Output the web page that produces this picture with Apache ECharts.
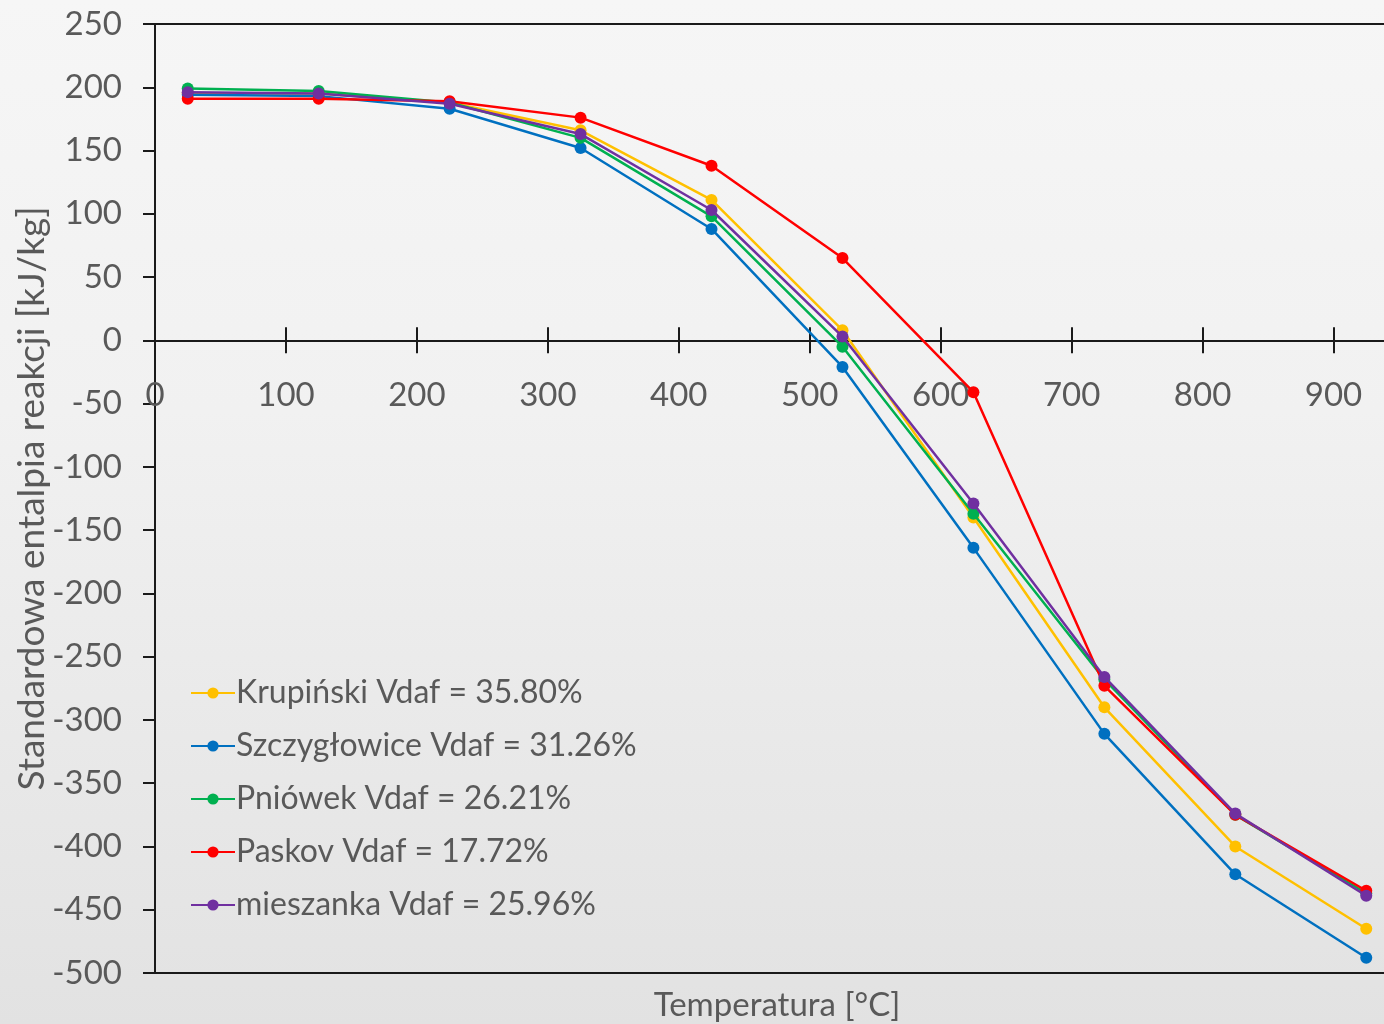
<!DOCTYPE html>
<html>
<head>
<meta charset="utf-8">
<script src="https://cdn.jsdelivr.net/npm/echarts@6/dist/echarts.min.js"></script>
<style>
  html, body { margin: 0; padding: 0; overflow: hidden; width: 1384px; height: 1024px; }
  body { background: linear-gradient(180deg, #f6f6f6 0%, #f1f1f1 40%, #e2e2e2 100%); }
  #chart { width: 1399px; height: 1024px; }
</style>
</head>
<body>
<div id="chart"></div>
<script>
// Temperatures [°C] at which the enthalpy was evaluated
const temperatures = [25, 125, 225, 325, 425, 525, 625, 725, 825, 925];

// Standard reaction enthalpy [kJ/kg] for each coal
const krupinski    = [195, 195, 188, 166, 111, 8, -140, -290, -400, -465];
const szczyglowice = [194, 193, 183, 152, 88, -21, -164, -311, -422, -488];
const pniowek      = [199, 197, 188, 160, 98, -5, -137, -268, -375, -437];
const paskov       = [191, 191, 189, 176, 138, 65, -41, -273, -375, -435];
const mieszanka    = [196, 195, 187, 163, 103, 3, -129, -266, -374, -439];

const seriesNames = [
  'Krupiński Vdaf = 35.80%',
  'Szczygłowice Vdaf = 31.26%',
  'Pniówek Vdaf = 26.21%',
  'Paskov Vdaf = 17.72%',
  'mieszanka Vdaf = 25.96%'
];
const seriesValues = [krupinski, szczyglowice, pniowek, paskov, mieszanka];
const seriesColors = ['#FFC000', '#0070C0', '#00B050', '#FF0000', '#7030A0'];

const Y_MIN = -500, Y_MAX = 250, Y_STEP = 50;
const X_MIN = 0, X_MAX = 950, X_STEP = 100;

const FONT = 'Lato, "Open Sans", sans-serif';
const TEXT = '#595959';
const AXIS = '#1a1a1a';

const chart = echarts.init(document.getElementById('chart'), null, { renderer: 'canvas' });

function buildOption(zeroOffset) {
  return {
    backgroundColor: 'transparent',
    animation: false,
    grid: {
      left: 155, right: 0, top: 24, bottom: 51,
      outerBoundsMode: 'none',
      containLabel: false,
      show: true, borderColor: AXIS, borderWidth: 2, backgroundColor: 'transparent'
    },
    legend: {
      orient: 'vertical',
      left: 185, top: 672,
      itemWidth: 44, itemHeight: 14, itemGap: 21,
      textStyle: { fontFamily: FONT, fontSize: 32, color: TEXT, padding: [0, 0, 0, -4] },
      data: seriesNames
    },
    xAxis: [
      {
        // labelled axis running through y = 0, ticks hanging below the line
        type: 'value', min: X_MIN, max: X_MAX, interval: X_STEP, position: 'bottom',
        offset: zeroOffset,
        axisLine: { onZero: false, lineStyle: { color: AXIS, width: 2 } },
        axisTick: { show: true, length: 13, lineStyle: { color: AXIS, width: 2 } },
        axisLabel: { fontFamily: FONT, fontSize: 33, color: TEXT, margin: 39, showMaxLabel: false },
        splitLine: { show: false }
      },
      {
        // the same axis again with ticks pointing up, so each tick crosses the line
        type: 'value', min: X_MIN, max: X_MAX, interval: X_STEP, position: 'bottom',
        offset: zeroOffset,
        axisLine: { onZero: false, lineStyle: { color: AXIS, width: 2 } },
        axisTick: { show: true, inside: true, length: 13, lineStyle: { color: AXIS, width: 2 } },
        axisLabel: { show: false },
        splitLine: { show: false }
      },
      {
        // axis title under the plot
        type: 'value', min: X_MIN, max: X_MAX, position: 'bottom',
        axisLine: { show: false, onZero: false },
        axisTick: { show: false },
        axisLabel: { show: false },
        splitLine: { show: false },
        name: 'Temperatura [°C]',
        nameLocation: 'middle',
        nameGap: 16,
        nameMoveOverlap: false,
        nameTextStyle: { fontFamily: FONT, fontSize: 33, color: TEXT }
      }
    ],
    yAxis: {
      type: 'value', min: Y_MIN, max: Y_MAX, interval: Y_STEP,
      axisLine: { show: true, onZero: false, lineStyle: { color: AXIS, width: 2 } },
      axisTick: { show: true, length: 12, lineStyle: { color: AXIS, width: 2 } },
      axisLabel: { fontFamily: FONT, fontSize: 33, color: TEXT, margin: 33 },
      splitLine: { show: false },
      name: 'Standardowa entalpia reakcji [kJ/kg]',
      nameLocation: 'middle',
      nameGap: 104,
      nameMoveOverlap: false,
      nameTextStyle: { fontFamily: FONT, fontSize: 37, color: TEXT }
    },
    series: seriesNames.map((name, i) => ({
      name,
      type: 'line',
      xAxisIndex: 0,
      data: temperatures.map((t, k) => [t, seriesValues[i][k]]),
      symbol: 'circle',
      symbolSize: 12,
      lineStyle: { width: 2.5, color: seriesColors[i] },
      itemStyle: { color: seriesColors[i] },
      z: 3 + i
    }))
  };
}

// first pass lays out the grid; then the x axis is shifted up onto y = 0
chart.setOption(buildOption(0));
const zeroY = chart.convertToPixel({ yAxisIndex: 0 }, 0);
const bottomY = chart.convertToPixel({ yAxisIndex: 0 }, Y_MIN);
chart.setOption(buildOption(zeroY - bottomY));
</script>
</body>
</html>
